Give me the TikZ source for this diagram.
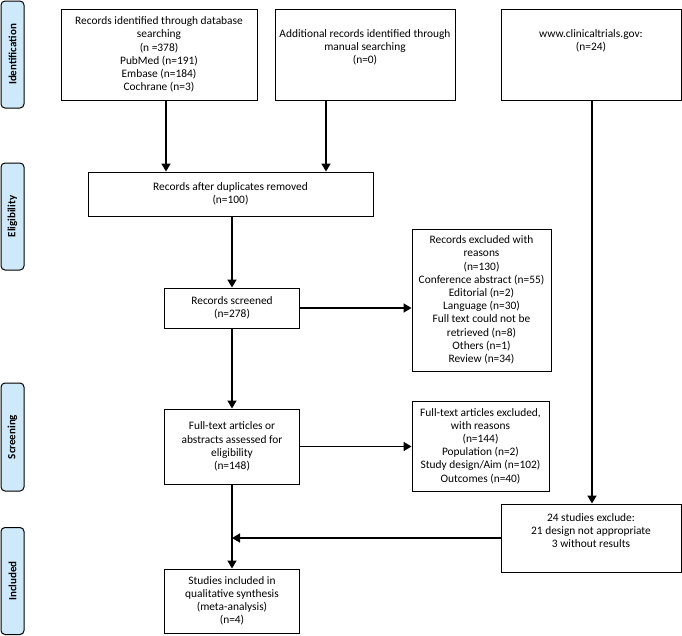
\documentclass[tikz,border=0pt]{standalone}
\usepackage{fontspec}
\setmainfont{Carlito}
\usetikzlibrary{arrows.meta}
\definecolor{sidefill}{RGB}{205,233,250}
\begin{document}
\begin{tikzpicture}[x=1pt,y=-1pt,
  box/.style={draw=black,line width=0.9pt,rectangle,inner sep=0pt,fill=white},
  txt/.style={align=center,font=\fontsize{11.4}{13.2}\selectfont,inner sep=0pt},
  side/.style={draw=black,line width=1pt,rounded corners=4pt,fill=sidefill,minimum width=23pt,inner sep=0pt},
  sidetxt/.style={rotate=90,font=\fontsize{11}{12}\selectfont\bfseries},
  arr/.style={line width=1.6pt,-{Triangle[length=8pt,width=9pt]}},
  ln/.style={line width=1.6pt}]
\useasboundingbox (0,0) rectangle (682,635);
% side labels
\node[side,minimum height=107pt] (s1) at (12.5,54.5) {};
\node[sidetxt] at (s1) {Identification};
\node[side,minimum height=107pt] (s2) at (12.5,216.5) {};
\node[sidetxt] at (s2) {Eligibility};
\node[side,minimum height=108pt] (s3) at (12.5,437) {};
\node[sidetxt] at (s3) {Screening};
\node[side,minimum height=107pt] (s4) at (12.5,581) {};
\node[sidetxt] at (s4) {Included};
% boxes
\node[box,minimum width=196pt,minimum height=91pt,txt] (A) at (159,54.5) {Records identified through database\\searching\\(n =378)\\PubMed (n=191)\\Embase (n=184)\\Cochrane (n=3)};
\node[box,minimum width=180pt,minimum height=91pt] (B) at (365,54.5) {};
\node[txt,anchor=north] (Bt) at (365,29) {Additional records identified through\\manual searching\\(n=0)};
\node[box,minimum width=180pt,minimum height=91pt] (C) at (591,54.5) {};
\node[txt,anchor=north] (Ct) at (591,29) {www.clinicaltrials.gov:\\(n=24)};
\node[box,minimum width=285pt,minimum height=44pt,txt] (D) at (230.5,194) {Records after duplicates removed\\(n=100)};
\node[box,minimum width=135pt,minimum height=40pt,txt] (E) at (232,308) {Records screened\\(n=278)};
\node[box,minimum width=139pt,minimum height=142pt,txt] (F) at (481.5,300) {Records excluded with\\reasons\\(n=130)\\Conference abstract (n=55)\\Editorial (n=2)\\Language (n=30)\\Full text could not be\\retrieved (n=8)\\Others (n=1)\\Review (n=34)};
\node[box,minimum width=135pt,minimum height=75pt,txt] (G) at (232,446.5) {Full-text articles or\\abstracts assessed for\\eligibility\\(n=148)};
\node[box,minimum width=137pt,minimum height=90pt,txt] (H) at (480.5,446) {Full-text articles excluded,\\with reasons\\(n=144)\\Population (n=2)\\Study design/Aim (n=102)\\Outcomes (n=40)};
\node[box,minimum width=180pt,minimum height=68pt] (I) at (591,538) {};
\node[txt,anchor=north] (It) at (591,513) {24 studies exclude:\\21 design not appropriate\\3 without results};
\node[box,minimum width=135pt,minimum height=64pt,txt] (J) at (232,601) {Studies included in\\qualitative synthesis\\(meta-analysis)\\(n=4)};
% connectors
\coordinate (xa) at (166,0);
\coordinate (xb) at (326,0);
\coordinate (xc) at (592,0);
\draw[arr] (A.south -| xa) -- (D.north -| xa);
\draw[arr] (B.south -| xb) -- (D.north -| xb);
\draw[arr] (D.south -| E.north) -- (E.north);
\draw[arr] (E.east) -- (F.west |- E.east);
\draw[arr] (E.south) -- (G.north);
\draw[arr] (G.east) -- (H.west |- G.east);
\draw[arr] (C.south -| xc) -- (I.north -| xc);
\draw[arr] (G.south) -- (J.north);
\draw[arr] (I.west) -- (I.west -| G.south);
\end{tikzpicture}
\end{document}
